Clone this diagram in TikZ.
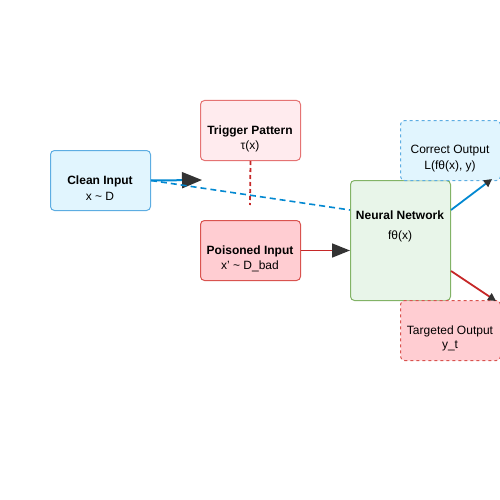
\documentclass[tikz,border=0pt]{standalone}
\usepackage{fontspec}
\setmainfont{Liberation Sans}
\usetikzlibrary{arrows.meta}
\definecolor{cbluefill}{HTML}{E1F5FE}
\definecolor{cblueline}{HTML}{5DADE2}
\definecolor{ctrigfill}{HTML}{FFEBEE}
\definecolor{ctrigline}{HTML}{E57373}
\definecolor{cpoisfill}{HTML}{FFCDD2}
\definecolor{cpoisline}{HTML}{D9534F}
\definecolor{cnnfill}{HTML}{E8F5E9}
\definecolor{cnnline}{HTML}{82B366}
\definecolor{cblue}{HTML}{0288D1}
\definecolor{cred}{HTML}{C62828}
\definecolor{chead}{HTML}{333333}
\tikzset{
  box/.style={draw, rounded corners=4pt, line width=1pt, inner sep=0pt, anchor=north west},
  lbl/.style={font=\fontsize{12}{14}\selectfont, inner sep=0pt, anchor=center},
  blbl/.style={lbl, font=\fontsize{12}{14}\selectfont\bfseries},
  bighead/.style={arrows={-{Triangle[length=20pt,width=16pt,color=chead]}}},
  midhead/.style={arrows={-{Triangle[length=18pt,width=14pt,color=chead]}}},
  smallhead/.style={arrows={-{Triangle[length=8pt,width=8pt,color=chead]}}}
}
\begin{document}
\begin{tikzpicture}[x=1pt,y=-1pt]
\useasboundingbox (0,0) rectangle (500,500);
% boxes
\node[box, fill=cbluefill, draw=cblueline, minimum width=100pt, minimum height=60pt] (clean) at (50,150) {};
\node[box, fill=ctrigfill, draw=ctrigline, minimum width=100pt, minimum height=60pt] (trig) at (200,100) {};
\node[box, fill=cpoisfill, draw=cpoisline, minimum width=100pt, minimum height=60pt] (pois) at (200,220) {};
\node[box, fill=cnnfill, draw=cnnline, minimum width=100pt, minimum height=120pt] (nn) at (350,180) {};
\node[box, fill=cbluefill, draw=cblueline, dashed, minimum width=100pt, minimum height=60pt] (corr) at (400,120) {};
\node[box, fill=cpoisfill, draw=cpoisline, dashed, minimum width=100pt, minimum height=60pt] (targ) at (400,300) {};
% texts
\node[blbl] (t1a) at (100,181) {Clean Input};
\node[lbl] (t1b) at (100,196) {x \textasciitilde{} D};
\node[blbl] (t2a) at (250,131) {Trigger Pattern};
\node[lbl] (t2b) at (250,146) {τ(x)};
\node[blbl] (t3a) at (250,251) {Poisoned Input};
\node[lbl] (t3b) at (250,266) {x' \textasciitilde{} D\_bad};
\node[blbl] (t4a) at (400,215) {Neural Network};
\node[lbl] (t4b) at (400,236) {fθ(x)};
\node[lbl] (t5a) at (450,151) {Correct Output};
\node[lbl] (t5b) at (450,166) {L(fθ(x), y)};
\node[lbl] (t6a) at (450,331) {Targeted Output};
\node[lbl] (t6b) at (450,346) {y\_t};
% coordinates
\coordinate (c1) at (202,180);
\coordinate (c2) at (250,205);
\coordinate (c3) at (492,179);
\coordinate (c4) at (496,301);
% connectors
\draw[cblue, line width=2pt, bighead] (clean.east) -- (c1);
\draw[cblue, line width=1.6pt, dash pattern=on 6pt off 4pt] (clean.east) -- ([yshift=-30pt]nn.north west);
\draw[cred, line width=1.8pt, dash pattern=on 4pt off 3pt] (trig.south) -- (c2);
\draw[cred, line width=1.6pt, midhead] (pois.east) -- (nn.west |- pois.east);
\draw[cblue, line width=1.8pt, smallhead] ([yshift=-30pt]nn.north east) -- (c3);
\draw[cred, line width=1.8pt, smallhead] ([yshift=30pt]nn.south east) -- (c4);
\end{tikzpicture}
\end{document}
